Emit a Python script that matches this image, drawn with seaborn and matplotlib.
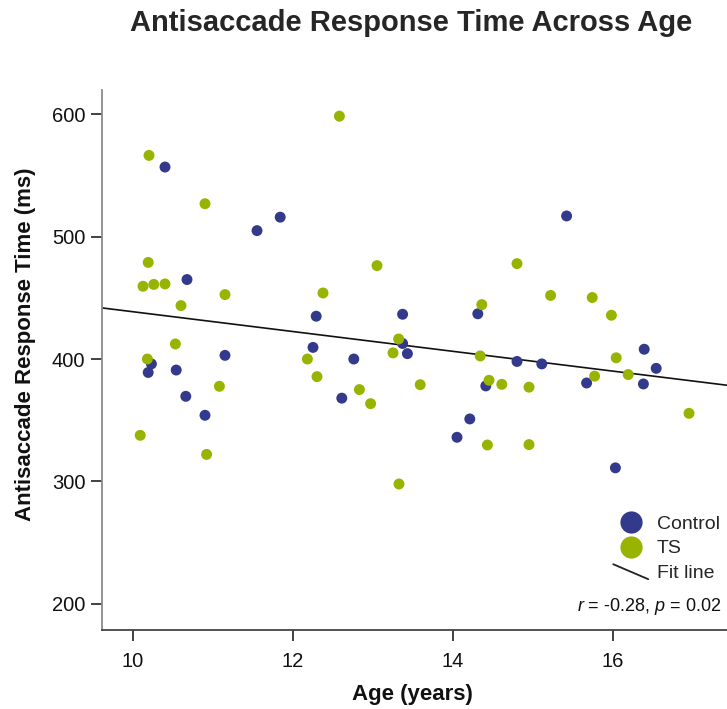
import numpy as np
import pandas as pd
import matplotlib
matplotlib.use("Agg")
import matplotlib.pyplot as plt
import seaborn as sns
from matplotlib.lines import Line2D
from matplotlib.legend_handler import HandlerBase

# ---- data ----
control_age = [10.40, 11.84, 11.55, 10.675, 12.25, 12.29, 10.23, 10.19, 10.54, 11.15,
               10.66, 10.90, 13.37, 14.31, 13.37, 12.76, 13.43, 14.80, 12.61, 14.41,
               14.21, 14.05, 15.42, 15.11, 16.39, 16.54, 15.67, 16.38, 16.03]
control_rt = [557, 516, 505, 465, 409.5, 435, 396, 389, 391, 403,
              369.5, 354, 436.6, 437, 412.7, 400, 404.4, 398, 368, 378,
              351, 336, 517, 396, 408, 392.4, 380.4, 379.6, 311]
ts_age = [10.20, 10.90, 10.19, 10.125, 10.26, 10.40, 11.15, 10.60, 10.53, 10.18,
          12.18, 12.30, 11.08, 10.09, 10.92, 12.58, 13.05, 14.80, 12.375, 14.36,
          13.32, 13.25, 14.34, 12.83, 12.97, 13.59, 14.45, 14.61, 14.43, 13.325,
          15.22, 15.74, 15.98, 16.04, 14.95, 15.77, 16.19, 16.95, 14.95]
ts_rt = [566.5, 527, 479, 459.5, 461, 461.4, 452.7, 443.7, 412.3, 400,
         400, 385.6, 377.7, 337.6, 322, 598.6, 476.4, 478, 454, 444.5,
         416.4, 405, 402.5, 375, 363.5, 379, 382.6, 379.3, 329.7, 297.8,
         452, 450.3, 435.8, 401, 377, 386, 387.3, 355.6, 330]
groups = ["Control", "TS"]
group_colors = ["#343A8B", "#98B300"]
x_ticks = [10, 12, 14, 16]
y_ticks = [200, 300, 400, 500, 600]
stats_text = r"$r$ = -0.28, $p$ = 0.02"

df = pd.DataFrame({
    "age": control_age + ts_age,
    "rt": control_rt + ts_rt,
    "group": ["Control"] * len(control_age) + ["TS"] * len(ts_age),
})

sns.set_theme(style="white")
plt.rcParams["font.family"] = ["Liberation Sans", "DejaVu Sans"]
plt.rcParams["mathtext.fontset"] = "custom"
plt.rcParams["mathtext.it"] = "Liberation Sans:italic"
plt.rcParams["mathtext.rm"] = "Liberation Sans"

fig = plt.figure(figsize=(7.27, 7.09), dpi=100)
ax = fig.add_axes([102 / 727, 79 / 709, 1 - 102 / 727, 540 / 709])

xlim = (9.6125, 17.425)
ylim = (178.4, 620)
ax.set_xlim(*xlim)
ax.set_ylim(*ylim)

sns.scatterplot(data=df, x="age", y="rt", hue="group", hue_order=groups,
                palette=group_colors, s=62, edgecolor="none", linewidth=0,
                ax=ax, legend=False, zorder=3)

# fit line (least squares over all points), across full x range
coef = np.polyfit(df["age"], df["rt"], 1)
xs = np.array(xlim)
ax.plot(xs, np.polyval(coef, xs), color="#111111", lw=1.2, zorder=2)
ax.set_xlim(*xlim)

ax.set_xticks(x_ticks)
ax.set_yticks(y_ticks)
ax.tick_params(axis="both", which="both", direction="out", length=8, width=1.3,
               color="#333333", labelsize=14.5, labelcolor="#111111",
               left=True, bottom=True)
ax.tick_params(axis="x", pad=8)
ax.tick_params(axis="y", pad=4)
for side in ["top", "right"]:
    ax.spines[side].set_visible(False)
ax.spines["left"].set_color("#8a8a8a")
ax.spines["left"].set_linewidth(1.3)
ax.spines["bottom"].set_color("#444444")
ax.spines["bottom"].set_linewidth(1.3)

ax.set_xlabel("Age (years)", fontsize=16, fontweight="bold", color="#111111")
ax.set_ylabel("Antisaccade Response Time (ms)", fontsize=16, fontweight="bold",
              color="#111111")
ax.xaxis.set_label_coords(0.497, -0.1)
ax.yaxis.set_label_coords(-0.106, 0.53)

fig.suptitle("Antisaccade Response Time Across Age", fontsize=21,
             fontweight="bold", x=0.565, y=0.987, va="top")


class SlantLineHandler(HandlerBase):
    def create_artists(self, legend, orig_handle, xdescent, ydescent,
                       width, height, fontsize, trans):
        x0 = -xdescent
        y0 = -ydescent
        line = Line2D([x0, x0 + width], [y0 + height * 1.0, y0 - height * 0.1],
                      color="#222222", lw=1.3, transform=trans)
        return [line]


class FitProxy:
    pass


handles = [
    Line2D([], [], marker="o", ls="none", markersize=16,
           markerfacecolor=group_colors[0], markeredgecolor="none"),
    Line2D([], [], marker="o", ls="none", markersize=16,
           markerfacecolor=group_colors[1], markeredgecolor="none"),
    FitProxy(),
]
labels = ["Control", "TS", "Fit line"]
leg = ax.legend(handles, labels, loc="lower right",
                bbox_to_anchor=(0.995, 0.082), frameon=False, fontsize=14,
                handlelength=1.8, handletextpad=0.45, labelspacing=0.35,
                borderaxespad=0.0, borderpad=0.2,
                handler_map={FitProxy: SlantLineHandler()})

ax.text(0.99, 0.043, stats_text, transform=ax.transAxes, ha="right",
        va="center", fontsize=13, color="#111111")

fig.savefig("out.png", dpi=100, facecolor="white")
